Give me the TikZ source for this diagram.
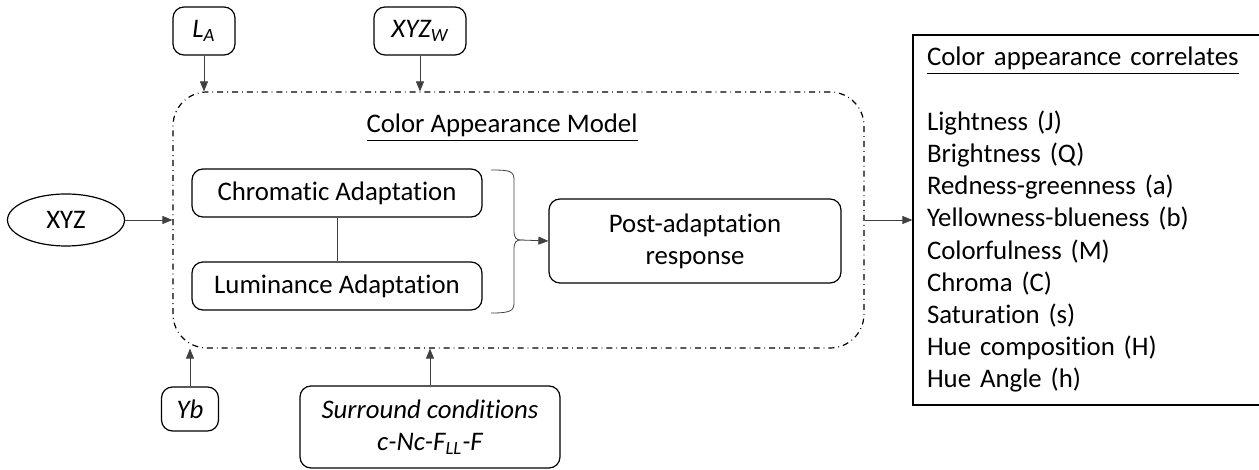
\documentclass[tikz,border=0pt]{standalone}
\usepackage{fontspec}
\setmainfont{Carlito}[Ligatures=NoCommon]
\usepackage{tikz}
\usetikzlibrary{shapes,arrows.meta,positioning,shapes.geometric}

\tikzset{
  rbox/.style={ draw, rounded corners=5.5pt, line width=0.6pt, align=center, inner sep=0pt }
}
\tikzset{
  cambox/.style={ draw, dash dot, rounded corners=17pt, line width=0.6pt, minimum width=345.5pt, minimum height=128pt }
}
\tikzset{
  conn/.style={ ->, line width=0.4pt, draw=black!75 }
}

\begin{document}
\begin{tikzpicture}[x=0.5pt, y=-0.5pt, >={Triangle[length=5pt,width=4pt]},
    font=\fontsize{13.4}{16.1}\selectfont]
  \useasboundingbox (0,0) rectangle (1259,470);

  % model frame
  \node[cambox] (cam) at (518.5,220) {};
  \node[anchor=base] (camlbl) at (502,133) {\underline{Color Appearance Model}};

  \node[rbox, minimum width=145pt, minimum height=24pt] (chrom) at (337,193) {Chromatic Adaptation};
  \node[rbox, minimum width=145pt, minimum height=24pt] (lum) at (337,286) {Luminance Adaptation};
  \node[rbox, minimum width=146pt, minimum height=42pt] (post) at (695,241) {Post-adaptation\\response};

  % inputs
  \node[draw, ellipse, line width=0.6pt, minimum width=58.5pt, minimum height=26pt, inner sep=0pt] (xyz) at (66,220) {XYZ};
  \node[rbox, minimum width=31pt, minimum height=24pt] (la) at (204,31) {\itshape L\textsubscript{A}};
  \node[rbox, minimum width=46pt, minimum height=24pt] (xyzw) at (420,31) {\itshape XYZ\textsubscript{W}};
  \node[rbox, minimum width=28.5pt, minimum height=22pt] (yb) at (190,409) {\itshape Yb};
  \node[rbox, minimum width=130pt, minimum height=41pt] (sur) at (430,427) {\itshape Surround conditions\\\itshape c-Nc-F\textsubscript{LL}-F};

  % output
  \node[draw, line width=0.6pt, minimum width=174pt, minimum height=185pt, text width=160pt, align=left, inner xsep=6pt] (corr) at (1087,220) {%
    \underline{Color appearance correlates}\\[16.1pt]
    Lightness (J)\\
    Brightness (Q)\\
    Redness-greenness (a)\\
    Yellowness-blueness (b)\\
    Colorfulness (M)\\
    Chroma (C)\\
    Saturation (s)\\
    Hue composition (H)\\
    Hue Angle (h)};

  % brace
  \coordinate (bt) at (521,240);
  \draw[line width=0.4pt, black!75] (491,170) .. controls (510,170) and (514,171) .. (514,180) -- (514,230)
    .. controls (514,238) and (516,240) .. (bt) .. controls (516,240) and (514,242) .. (514,250)
    -- (514,303) .. controls (514,311) and (510,313) .. (491,313);

  \draw[line width=0.4pt, black!75] (chrom) -- (lum);
  \draw[conn] (bt) -- (post.west);
  \draw[conn] (xyz.east) -- (xyz.east -| cam.west);
  \draw[conn] (la.south) -- (la.south |- cam.north);
  \draw[conn] (xyzw.south) -- (xyzw.south |- cam.north);
  \draw[conn] (yb.north) -- (yb.north |- cam.south);
  \draw[conn] (sur.north) -- (sur.north |- cam.south);
  \draw[conn] (cam.east |- corr.west) -- (corr.west);
\end{tikzpicture}
\end{document}
